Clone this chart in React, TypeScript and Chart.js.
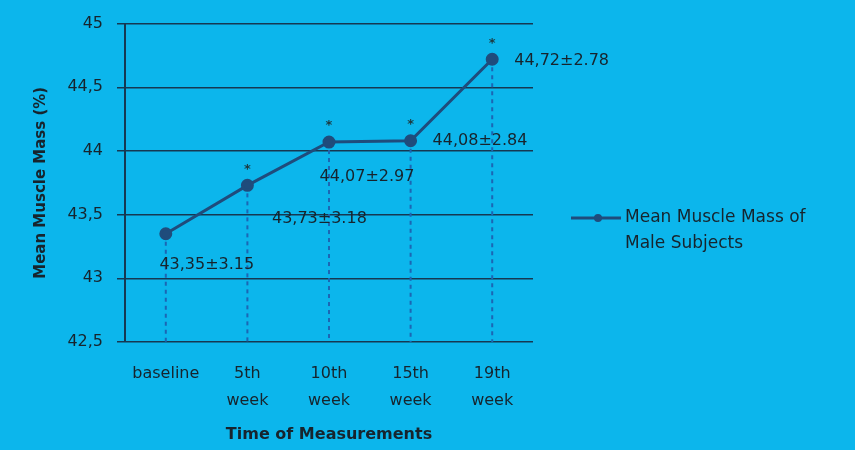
import React, { useEffect, useRef } from "react";
import { Chart, registerables } from "chart.js";

Chart.register(...registerables);

// ---- data ----
const categories: string[][] = [["baseline"], ["5th", "week"], ["10th", "week"], ["15th", "week"], ["19th", "week"]];
const meanValues = [43.35, 43.73, 44.07, 44.08, 44.72];
const pointLabels = ["43,35±3.15", "43,73±3.18", "44,07±2.97", "44,08±2.84", "44,72±2.78"];
const significant = [false, true, true, true, true];
const yMin = 42.5;
const yMax = 45;
const yStep = 0.5;
const seriesName = ["Mean Muscle Mass of", "Male Subjects"];
const yTitle = "Mean Muscle Mass (%)";
const xTitle = "Time of Measurements";

// ---- style ----
const BG = "#0cb6ec";
const LINE = "#1f4c7c";
const GRID = "#163852";
const DROP = "#1c66b4";
const TEXT = "#17242d";
const FONT = "'DejaVu Sans', sans-serif";

// label placement: [dx, dy, align]
const labelPlacement: [number, number, CanvasTextAlign][] = [
  [41, 31, "center"],
  [72, 33, "center"],
  [38, 35, "center"],
  [22, 0, "left"],
  [22, 2, "left"],
];

const overlayPlugin = {
  id: "overlay",
  beforeDatasetsDraw(chart: any) {
    const { ctx, chartArea } = chart;
    const meta = chart.getDatasetMeta(0);
    ctx.save();
    ctx.strokeStyle = DROP;
    ctx.lineWidth = 2;
    ctx.setLineDash([4, 4]);
    meta.data.forEach((pt: any) => {
      ctx.beginPath();
      ctx.moveTo(pt.x, pt.y);
      ctx.lineTo(pt.x, chartArea.bottom);
      ctx.stroke();
    });
    ctx.restore();
  },
  afterDatasetsDraw(chart: any) {
    const { ctx } = chart;
    const meta = chart.getDatasetMeta(0);
    ctx.save();
    ctx.fillStyle = TEXT;
    ctx.font = `16px ${FONT}`;
    ctx.textBaseline = "middle";
    meta.data.forEach((pt: any, i: number) => {
      const [dx, dy, align] = labelPlacement[i];
      ctx.textAlign = align;
      ctx.fillText(pointLabels[i], pt.x + dx, pt.y + dy);
      if (significant[i]) {
        ctx.font = `bold 13px ${FONT}`;
        ctx.textAlign = "center";
        ctx.fillStyle = "#1d3a40";
        ctx.fillText("*", pt.x, pt.y - 16);
        ctx.fillStyle = TEXT;
        ctx.font = `16px ${FONT}`;
      }
    });
    // legend
    const lx = chart.chartArea.right + 38;
    const ly = 218;
    ctx.strokeStyle = LINE;
    ctx.lineWidth = 3;
    ctx.beginPath();
    ctx.moveTo(lx, ly);
    ctx.lineTo(lx + 50, ly);
    ctx.stroke();
    ctx.fillStyle = LINE;
    ctx.beginPath();
    ctx.arc(lx + 27, ly, 4, 0, Math.PI * 2);
    ctx.fill();
    ctx.fillStyle = TEXT;
    ctx.font = `17px ${FONT}`;
    ctx.textAlign = "left";
    ctx.fillText(seriesName[0], lx + 54, ly);
    ctx.fillText(seriesName[1], lx + 54, ly + 26);
    ctx.restore();
  },
};

export default function App() {
  const canvasRef = useRef<HTMLCanvasElement | null>(null);

  useEffect(() => {
    const canvas = canvasRef.current;
    if (!canvas) return;
    const chart = new Chart(canvas, {
      type: "line",
      data: {
        labels: categories,
        datasets: [
          {
            label: seriesName.join(" "),
            data: meanValues,
            borderColor: LINE,
            backgroundColor: LINE,
            borderWidth: 3,
            pointRadius: 5,
            pointHoverRadius: 5,
            pointBackgroundColor: LINE,
            pointBorderColor: LINE,
            tension: 0,
          },
        ],
      },
      options: {
        animation: false,
        responsive: true,
        maintainAspectRatio: false,
        layout: { padding: { top: 17, right: 322, left: 0, bottom: 0 } },
        plugins: {
          legend: { display: false },
          tooltip: { enabled: false },
        },
        scales: {
          x: {
            offset: true,
            grid: { display: false },
            border: { display: false },
            ticks: {
              color: TEXT,
              font: { family: FONT, size: 16, lineHeight: 1.7 },
              padding: 10,
              maxRotation: 0,
              autoSkip: false,
            },
            title: {
              display: true,
              text: xTitle,
              color: TEXT,
              font: { family: FONT, size: 16, weight: "bold" },
              padding: { bottom: 6, top: 0 },
            },
            afterFit(scale: any) {
              scale.height = 108;
            },
          },
          y: {
            min: yMin,
            max: yMax,
            grid: { color: GRID, lineWidth: 1.5, tickLength: 8 },
            border: { display: true, color: GRID, width: 2 },
            ticks: {
              stepSize: yStep,
              color: TEXT,
              font: { family: FONT, size: 16 },
              padding: 14,
              callback: (v: any) => String(v).replace(".", ","),
            },
            title: {
              display: true,
              text: yTitle,
              color: TEXT,
              font: { family: FONT, size: 15, weight: "bold" },
              padding: { top: 32, bottom: 0 },
            },
            afterFit(scale: any) {
              scale.width = 125;
            },
          },
        },
      },
      plugins: [overlayPlugin],
    });
    return () => chart.destroy();
  }, []);

  return (
    <div
      style={{
        position: "fixed",
        left: 0,
        top: 0,
        width: 855,
        height: 450,
        background: BG,
      }}
    >
      <canvas ref={canvasRef} />
    </div>
  );
}
